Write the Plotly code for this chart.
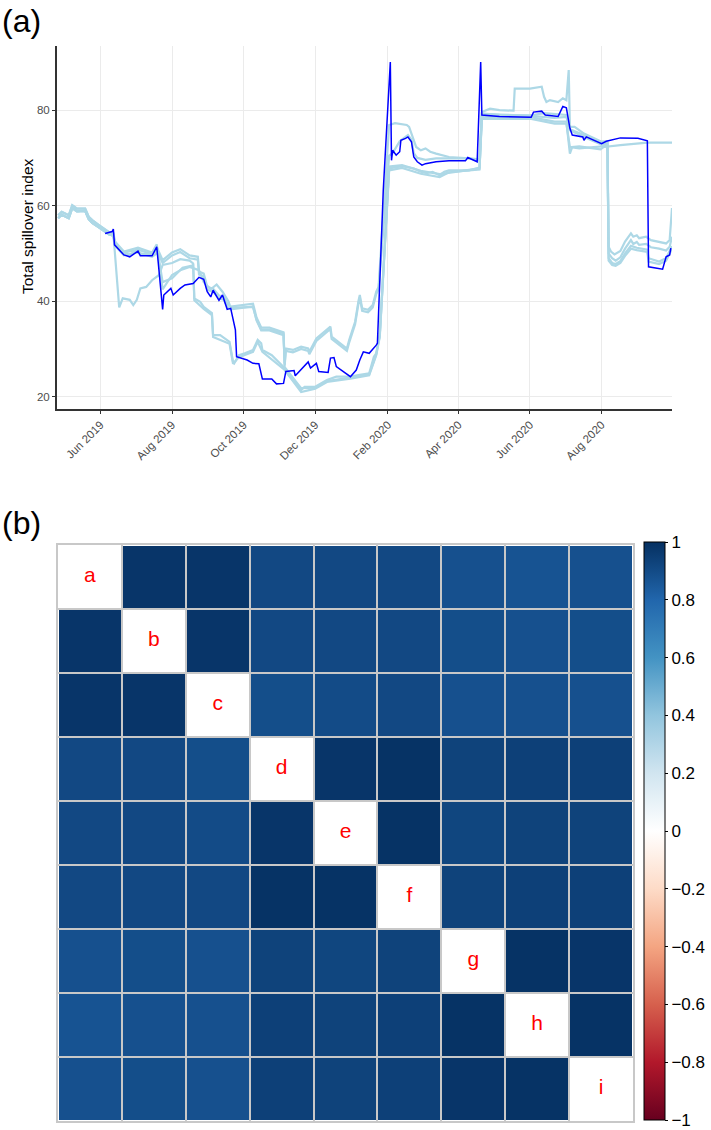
import plotly.graph_objects as go

FONT = "Liberation Sans, Arial, sans-serif"

# ---------------- panel (a): total spillover index ----------------
DARK = [("2019-06-05",54.2),("2019-06-11",54.6),("2019-06-12",55.1),("2019-06-13",51.8),("2019-06-21",49.7),
        ("2019-06-26",49.3),("2019-07-03",50.5),("2019-07-05",49.5),("2019-07-15",49.5),("2019-07-19",51.4),
        ("2019-07-24",38.3),("2019-07-25",41.3),("2019-07-31",42.7),("2019-08-02",41.3),("2019-08-08",42.7),
        ("2019-08-12",43.4),("2019-08-19",43.7),("2019-08-24",45.0),("2019-08-28",44.6),("2019-08-31",42.0),
        ("2019-09-03",40.9),("2019-09-05",42.3),("2019-09-10",40.2),("2019-09-13",41.3),("2019-09-17",38.3),
        ("2019-09-20",38.5),("2019-09-24",34.0),("2019-09-25",28.4),("2019-10-04",27.7),("2019-10-09",27.0),
        ("2019-10-14",26.9),("2019-10-17",23.7),("2019-10-25",23.7),("2019-10-29",22.7),("2019-11-04",22.8),
        ("2019-11-06",25.3),("2019-11-13",25.5),("2019-11-14",24.4),("2019-11-25",27.3),("2019-11-27",26.0),
        ("2019-12-02",27.0),("2019-12-04",25.3),("2019-12-12",25.1),("2019-12-14",28.1),("2019-12-17",28.2),
        ("2019-12-19",26.3),("2019-12-31",24.2),("2020-01-05",25.6),("2020-01-08",27.7),("2020-01-11",29.4),
        ("2020-01-16",29.1),("2020-01-20",30.1),("2020-01-22",30.8),("2020-01-23",31.2),("2020-01-28",63.3),
        ("2020-02-03",90.1),("2020-02-04",69.5),("2020-02-05",71.6),("2020-02-08",70.6),("2020-02-11",71.3),
        ("2020-02-12",73.7),("2020-02-16",74.1),("2020-02-18",74.4),("2020-02-21",73.4),("2020-02-23",70.2),
        ("2020-02-26",69.2),("2020-03-01",68.5),("2020-03-04",68.8),("2020-03-13",69.2),("2020-03-24",69.4),
        ("2020-04-07",69.4),("2020-04-09",70.1),("2020-04-15",69.5),("2020-04-17",69.2),("2020-04-20",90.1),
        ("2020-04-21",79.0),("2020-05-06",78.7),("2020-06-02",78.5),("2020-06-04",79.6),("2020-06-11",79.8),
        ("2020-06-14",79.0),("2020-06-25",78.7),("2020-06-29",80.8),("2020-07-02",80.5),("2020-07-05",76.2),
        ("2020-07-07",74.8),("2020-07-16",74.4),("2020-07-17",73.7),("2020-07-19",74.4),("2020-08-01",73.0),
        ("2020-08-05",73.5),("2020-08-17",74.2),("2020-09-01",74.1),("2020-09-09",73.6),("2020-09-10",47.2),
        ("2020-09-18",46.9),("2020-09-22",46.7),("2020-09-25",49.3),("2020-09-28",49.7),("2020-09-29",51.1)]

LIGHT1 = [("2019-04-26",58.0),("2019-04-29",58.7),("2019-05-05",58.0),("2019-05-08",60.1),("2019-05-12",59.4),
          ("2019-05-19",59.4),("2019-05-22",57.7),("2019-05-25",57.0),("2019-05-31",55.9),("2019-06-08",54.5),
          ("2019-06-12",54.2),("2019-06-14",52.0),("2019-06-21",50.2),("2019-07-03",50.8),("2019-07-15",49.9),
          ("2019-07-20",50.8),("2019-07-24",48.6),("2019-08-01",50.2),("2019-08-08",50.9),("2019-08-16",49.6),
          ("2019-08-23",49.3),("2019-08-24",46.2),("2019-08-28",45.8),("2019-08-31",43.0),("2019-09-05",42.6),
          ("2019-09-10",41.2),("2019-09-14",40.9),("2019-09-17",39.5),("2019-09-20",38.9),("2019-10-09",39.5),
          ("2019-10-12",36.6),("2019-10-16",34.5),("2019-10-23",34.5),("2019-11-02",33.8),("2019-11-04",33.5),
          ("2019-11-05",27.0),("2019-11-06",30.1),("2019-11-12",29.8),("2019-11-19",30.5),("2019-11-25",30.1),
          ("2019-11-26",29.4),("2019-12-02",32.2),("2019-12-09",33.6),("2019-12-14",34.7),("2019-12-15",32.6),
          ("2019-12-21",31.5),("2019-12-25",30.8),("2019-12-28",30.1),("2019-12-30",31.9),("2020-01-04",35.7),
          ("2020-01-07",40.2),("2020-01-08",41.3),("2020-01-10",38.5),("2020-01-15",38.2),("2020-01-19",39.2),
          ("2020-01-22",42.0),("2020-01-24",43.0),("2020-02-02",76.9),("2020-02-07",77.3),("2020-02-11",77.2),
          ("2020-02-17",76.9),("2020-02-19",76.5),("2020-02-22",74.4),("2020-02-25",72.3),("2020-02-29",71.6),
          ("2020-03-04",72.0),("2020-03-08",71.3),("2020-03-13",70.9),("2020-03-24",70.2),("2020-04-10",69.9),
          ("2020-04-19",69.5),("2020-04-21",79.6),("2020-04-28",80.3),("2020-05-06",80.0),("2020-05-18",79.9),
          ("2020-05-19",84.5),("2020-06-01",84.5),("2020-06-11",84.9),("2020-06-13",82.8),("2020-06-15",81.7),
          ("2020-06-18",82.1),("2020-06-25",81.7),("2020-06-29",82.5),("2020-07-02",82.1),("2020-07-04",88.4),
          ("2020-07-05",76.5),("2020-07-09",76.5),("2020-07-17",75.1),("2020-08-01",73.4),("2020-08-06",73.5),
          ("2020-08-07",51.4),("2020-08-09",50.4),("2020-08-12",49.8),("2020-08-17",50.5),("2020-08-21",52.5),
          ("2020-08-26",54.2),("2020-08-28",53.5),("2020-08-31",53.8),("2020-09-02",53.2),("2020-09-08",53.5),
          ("2020-09-12",52.8),("2020-09-19",52.5),("2020-09-25",52.1),("2020-09-28",52.8),("2020-09-30",59.5)]

LIGHT2 = [("2019-04-26",58.0),("2019-04-29",58.7),("2019-05-05",58.0),("2019-05-08",60.1),("2019-05-12",59.4),
          ("2019-05-19",59.4),("2019-05-22",57.7),("2019-05-25",57.0),("2019-05-31",55.9),("2019-06-08",54.5),
          ("2019-06-12",54.2),("2019-06-13",51.4),("2019-06-17",38.7),("2019-06-20",40.6),("2019-06-26",40.3),
          ("2019-06-29",39.2),("2019-07-02",40.3),("2019-07-05",42.7),("2019-07-10",43.0),("2019-07-15",44.4),
          ("2019-07-21",45.5),("2019-07-24",47.6),("2019-08-01",48.0),("2019-08-08",48.8),("2019-08-16",48.5),
          ("2019-08-19",47.9),("2019-08-20",40.6),("2019-08-25",39.9),("2019-08-28",38.8),("2019-09-04",37.5),
          ("2019-09-05",32.9),("2019-09-11",32.9),("2019-09-15",32.2),("2019-09-19",31.5),("2019-09-20",30.1),
          ("2019-09-22",27.3),("2019-09-23",27.0),("2019-09-27",28.7),("2019-10-02",29.1),("2019-10-09",29.8),
          ("2019-10-13",31.9),("2019-10-16",31.2),("2019-10-17",29.8),("2019-10-25",28.7),("2019-11-05",26.0),
          ("2019-11-06",25.3),("2019-11-19",21.4),("2019-11-22",22.1),("2019-12-01",22.1),("2019-12-11",23.5),
          ("2019-12-19",24.2),("2019-12-31",24.2),("2020-01-08",24.6),("2020-01-16",24.9),("2020-01-20",28.4),
          ("2020-01-22",29.1),("2020-01-25",33.0),("2020-02-02",67.8),("2020-02-13",68.3),("2020-02-23",67.8),
          ("2020-02-29",67.1),("2020-03-05",66.8),("2020-03-10",67.1),("2020-03-16",66.4),("2020-03-20",67.1),
          ("2020-03-24",67.4),("2020-04-10",67.4),("2020-04-19",68.0),("2020-04-21",78.6),("2020-06-01",78.6),
          ("2020-06-07",78.3),("2020-06-17",77.9),("2020-06-22",77.6),("2020-07-02",77.6),("2020-07-05",70.9),
          ("2020-07-07",72.3),("2020-07-13",72.4),("2020-07-31",71.8),("2020-08-03",72.3),("2020-08-17",72.7),
          ("2020-09-02",73.0),("2020-09-09",73.2),("2020-09-30",73.2)]

LIGHT3 = [("2019-04-26",57.4),("2019-04-29",58.1),("2019-05-05",57.4),("2019-05-08",59.5),("2019-05-12",58.8),
          ("2019-05-19",58.9),("2019-05-22",57.2),("2019-05-25",56.4),("2019-05-31",55.4),("2019-06-08",54.0),
          ("2019-06-12",53.7),("2019-06-14",51.5),("2019-06-21",49.6),("2019-07-03",50.2),("2019-07-15",49.3),
          ("2019-07-20",50.2),("2019-07-24",48.0),("2019-08-01",49.6),("2019-08-08",50.3),("2019-08-16",49.0),
          ("2019-08-23",48.7),("2019-08-24",45.6),("2019-08-28",45.2),("2019-08-31",42.4),("2019-09-05",42.0),
          ("2019-09-10",40.6),("2019-09-14",40.3),("2019-09-17",38.9),("2019-09-20",38.3),("2019-10-09",38.9),
          ("2019-10-12",36.0),("2019-10-16",33.9),("2019-10-23",33.9),("2019-11-02",33.2),("2019-11-04",32.9),
          ("2019-11-05",26.6),("2019-11-06",29.6),("2019-11-12",29.3),("2019-11-19",30.0),("2019-11-25",29.6),
          ("2019-11-26",28.9),("2019-12-02",31.7),("2019-12-09",33.1),("2019-12-14",34.2),("2019-12-15",32.1),
          ("2019-12-21",31.0),("2019-12-25",30.3),("2019-12-28",29.6),("2019-12-30",31.4),("2020-01-04",35.2),
          ("2020-01-07",39.7),("2020-01-08",40.8),("2020-01-10",38.0),("2020-01-15",37.7),("2020-01-19",38.7),
          ("2020-01-22",41.5),("2020-01-24",42.5),("2020-02-02",70.5),("2020-02-05",71.0),("2020-02-11",73.5),
          ("2020-02-18",74.8),("2020-02-21",73.8),("2020-02-23",71.0),("2020-02-26",70.0),("2020-03-04",69.6),
          ("2020-03-13",69.9),("2020-04-10",69.9),("2020-04-19",69.7),("2020-04-21",79.3),("2020-05-06",79.0),
          ("2020-06-02",78.9),("2020-06-13",79.4),("2020-07-02",79.0),("2020-07-05",75.8),("2020-07-17",74.4),
          ("2020-08-01",72.8),("2020-08-06",72.9),("2020-08-07",50.0),("2020-08-10",49.0),("2020-08-13",48.5),
          ("2020-08-17",49.2),("2020-08-21",51.0),("2020-08-26",52.8),("2020-08-28",52.0),("2020-08-31",52.4),
          ("2020-09-02",51.8),("2020-09-08",52.0),("2020-09-12",51.3),("2020-09-19",51.0),("2020-09-25",50.6),
          ("2020-09-28",51.4),("2020-09-30",53.5)]

LIGHT4 = [("2019-04-26",57.4),("2019-04-29",58.1),("2019-05-05",57.4),("2019-05-08",59.5),("2019-05-12",58.8),
          ("2019-05-19",58.9),("2019-05-22",57.2),("2019-05-25",56.4),("2019-05-31",55.4),("2019-06-08",54.0),
          ("2019-06-12",53.7),("2019-06-13",52.3),("2019-06-21",50.1),("2019-06-26",49.7),("2019-07-03",50.9),
          ("2019-07-05",49.9),("2019-07-15",49.9),("2019-07-19",51.6),("2019-07-24",44.0),("2019-08-01",44.8),
          ("2019-08-10",47.0),("2019-08-19",47.5),("2019-08-20",40.2),("2019-08-28",38.4),("2019-09-04",37.1),
          ("2019-09-05",32.5),("2019-09-19",31.1),("2019-09-22",26.9),("2019-09-27",28.3),("2019-10-09",29.4),
          ("2019-10-13",31.5),("2019-10-17",29.4),("2019-11-05",25.6),("2019-11-19",21.0),("2019-12-01",21.7),
          ("2019-12-11",23.1),("2019-12-31",23.8),("2020-01-16",24.5),("2020-01-22",28.7),("2020-01-25",32.5),
          ("2020-02-02",67.4),("2020-02-13",67.9),("2020-02-29",66.7),("2020-03-16",66.0),("2020-03-24",67.0),
          ("2020-04-19",67.6),("2020-04-21",78.2),("2020-06-01",78.2),("2020-06-22",77.2),("2020-07-02",77.2),
          ("2020-07-05",72.3),("2020-07-13",72.0),("2020-08-06",72.5),("2020-08-07",49.0),("2020-08-10",48.0),
          ("2020-08-13",47.8),("2020-08-17",48.4),("2020-08-21",50.0),("2020-08-26",51.6),("2020-08-31",51.2),
          ("2020-09-09",50.8),("2020-09-10",49.0),("2020-09-19",48.3),("2020-09-25",49.0),("2020-09-28",50.5),
          ("2020-09-30",51.5)]

LIGHT5 = [("2019-04-26",57.4),("2019-04-29",58.1),("2019-05-05",57.4),("2019-05-08",59.5),("2019-05-12",58.8),
          ("2019-05-19",58.9),("2019-05-22",57.2),("2019-05-25",56.4),("2019-05-31",55.4),("2019-06-08",54.0),
          ("2019-06-12",53.7),("2019-06-13",52.6),("2019-06-21",50.4),("2019-07-03",51.2),("2019-07-15",50.2),
          ("2019-07-19",51.9),("2019-07-24",42.5),("2019-08-01",45.5),("2019-08-08",46.5),("2019-08-16",47.2),
          ("2019-08-24",46.5),("2019-08-28",44.0),("2019-09-03",42.5),("2019-09-08",43.5),("2019-09-13",42.0),
          ("2019-09-18",40.0),("2019-09-20",38.6),("2019-10-09",38.8),("2019-10-12",36.2),("2019-10-16",34.1),
          ("2019-10-23",34.1),("2019-11-04",33.3),("2019-11-05",26.2),("2019-11-19",21.8),("2019-12-01",21.9),
          ("2019-12-11",23.3),("2019-12-31",24.0),("2020-01-16",24.7),("2020-01-22",28.9),("2020-01-25",32.8),
          ("2020-02-02",68.2),("2020-02-13",68.5),("2020-02-29",67.3),("2020-03-16",66.6),("2020-04-19",67.8),
          ("2020-04-21",79.2),("2020-05-06",79.1),("2020-06-02",78.8),("2020-06-22",78.4),("2020-07-02",78.6),
          ("2020-07-05",76.0),("2020-07-17",74.8),("2020-08-01",73.0),("2020-08-06",73.1),("2020-08-07",48.5),
          ("2020-08-10",47.6),("2020-08-13",47.4),("2020-08-17",48.0),("2020-08-21",49.5),("2020-08-26",51.0),
          ("2020-08-31",50.7),("2020-09-09",50.3),("2020-09-10",48.3),("2020-09-19",47.8),("2020-09-25",48.5),
          ("2020-09-28",50.0),("2020-09-30",51.0)]

Y_TICKS = [20, 40, 60, 80]

# ---------------- panel (b): correlation matrix ----------------
LETTERS = ["a", "b", "c", "d", "e", "f", "g", "h", "i"]
CORR = [
    [None, 0.98, 0.98, 0.91, 0.91, 0.91, 0.88, 0.87, 0.88],
    [0.98, None, 0.98, 0.91, 0.91, 0.91, 0.89, 0.88, 0.89],
    [0.98, 0.98, None, 0.89, 0.90, 0.91, 0.88, 0.88, 0.88],
    [0.91, 0.91, 0.89, None, 0.98, 0.99, 0.93, 0.94, 0.94],
    [0.91, 0.91, 0.90, 0.98, None, 0.99, 0.92, 0.93, 0.93],
    [0.91, 0.91, 0.91, 0.99, 0.99, None, 0.93, 0.94, 0.94],
    [0.88, 0.89, 0.88, 0.93, 0.92, 0.93, None, 0.99, 0.98],
    [0.87, 0.88, 0.88, 0.94, 0.93, 0.94, 0.99, None, 0.99],
    [0.88, 0.89, 0.88, 0.94, 0.93, 0.94, 0.98, 0.99, None],
]
CB_TICKS = [1, 0.8, 0.6, 0.4, 0.2, 0, -0.2, -0.4, -0.6, -0.8, -1]
CB_TEXT = ["1", "0.8", "0.6", "0.4", "0.2", "0", "\u22120.2", "\u22120.4", "\u22120.6", "\u22120.8", "\u22121"]

RDBU = [[0.0, "#67001F"], [0.1, "#B2182B"], [0.2, "#D6604D"], [0.3, "#F4A582"], [0.4, "#FDDBC7"],
        [0.5, "#FFFFFF"], [0.6, "#D1E5F0"], [0.7, "#92C5DE"], [0.8, "#4393C3"], [0.9, "#2166AC"],
        [1.0, "#053061"]]

W, H = 711, 1130
fig = go.Figure()

for series in [LIGHT1, LIGHT2, LIGHT3, LIGHT4, LIGHT5]:
    fig.add_trace(go.Scatter(x=[d for d, _ in series], y=[v for _, v in series], mode="lines",
                             line=dict(color="#add8e6", width=2.2), xaxis="x", yaxis="y",
                             showlegend=False, hoverinfo="skip"))
fig.add_trace(go.Scatter(x=[d for d, _ in DARK], y=[v for _, v in DARK], mode="lines",
                         line=dict(color="#0000ff", width=1.5), xaxis="x", yaxis="y",
                         showlegend=False, hoverinfo="skip"))

idx = list(range(len(LETTERS)))
fig.add_trace(go.Heatmap(z=CORR, x=idx, y=idx, xaxis="x2", yaxis="y2", zmin=-1, zmax=1,
                         colorscale=RDBU, xgap=2, ygap=2, hoverinfo="skip",
                         colorbar=dict(x=644 / W, xanchor="left", y=1 - 542 / H, yanchor="top",
                                       len=578 / H, lenmode="fraction", thickness=21,
                                       thicknessmode="pixels", xpad=0, ypad=0,
                                       outlinewidth=1, outlinecolor="black",
                                       tickvals=CB_TICKS, ticktext=CB_TEXT, ticks="outside",
                                       ticklen=3, tickcolor="black",
                                       tickfont=dict(family=FONT, size=17, color="black"))))
fig.add_trace(go.Scatter(x=idx, y=idx, mode="text", text=LETTERS, xaxis="x2", yaxis="y2",
                         textfont=dict(family=FONT, size=21, color="#ff0000"),
                         showlegend=False, hoverinfo="skip"))

boundaries = [i - 0.5 for i in range(len(LETTERS) + 1)]
grid_axis = dict(tickvals=boundaries, showticklabels=False,
                 showgrid=True, gridcolor="#c8c8c8", gridwidth=2, zeroline=False,
                 showline=True, mirror=True, linecolor="#c8c8c8", linewidth=2, ticks="")

fig.update_layout(
    width=W, height=H, margin=dict(l=0, r=0, t=0, b=0),
    paper_bgcolor="white", plot_bgcolor="white", showlegend=False,
    font=dict(family=FONT),
    xaxis=dict(type="date", domain=[57 / W, 672 / W], anchor="y",
               range=["2019-04-25", "2020-09-30"], tick0="2019-06-01", dtick="M2",
               tickformat="%b %Y", tickangle=-45,
               tickfont=dict(family=FONT, size=11.5, color="#4d4d4d"),
               showgrid=True, gridcolor="#ebebeb", gridwidth=1, zeroline=False,
               showline=True, linecolor="#333333", linewidth=2,
               ticks="outside", ticklen=3, tickcolor="#333333"),
    yaxis=dict(domain=[1 - 408.7 / H, 1 - 45.7 / H], anchor="x", range=[17.5, 93.5],
               tickvals=Y_TICKS, tickfont=dict(family=FONT, size=11.5, color="#4d4d4d"),
               showgrid=True, gridcolor="#ebebeb", gridwidth=1, zeroline=False,
               showline=True, linecolor="#333333", linewidth=2,
               ticks="outside", ticklen=3, tickcolor="#333333"),
    xaxis2=dict(domain=[58 / W, 633 / W], anchor="y2", range=[-0.5, len(LETTERS) - 0.5], **grid_axis),
    yaxis2=dict(domain=[1 - 1121 / H, 1 - 545 / H], anchor="x2", range=[len(LETTERS) - 0.5, -0.5],
                **grid_axis),
    annotations=[
        dict(text="(a)", x=0, y=1 - 1 / H, xref="paper", yref="paper", xanchor="left",
             yanchor="top", showarrow=False, font=dict(family=FONT, size=32, color="black")),
        dict(text="(b)", x=0, y=1 - 503 / H, xref="paper", yref="paper", xanchor="left",
             yanchor="top", showarrow=False, font=dict(family=FONT, size=32, color="black")),
        dict(text="Total spillover index", x=28 / W, y=1 - 226 / H, xref="paper", yref="paper",
             xanchor="center", yanchor="middle", textangle=-90, showarrow=False,
             font=dict(family=FONT, size=15.5, color="black")),
    ],
)

fig.write_html("out.html", config={"displayModeBar": False},
               post_script="document.body.style.margin='0';document.body.style.overflow='hidden';")
